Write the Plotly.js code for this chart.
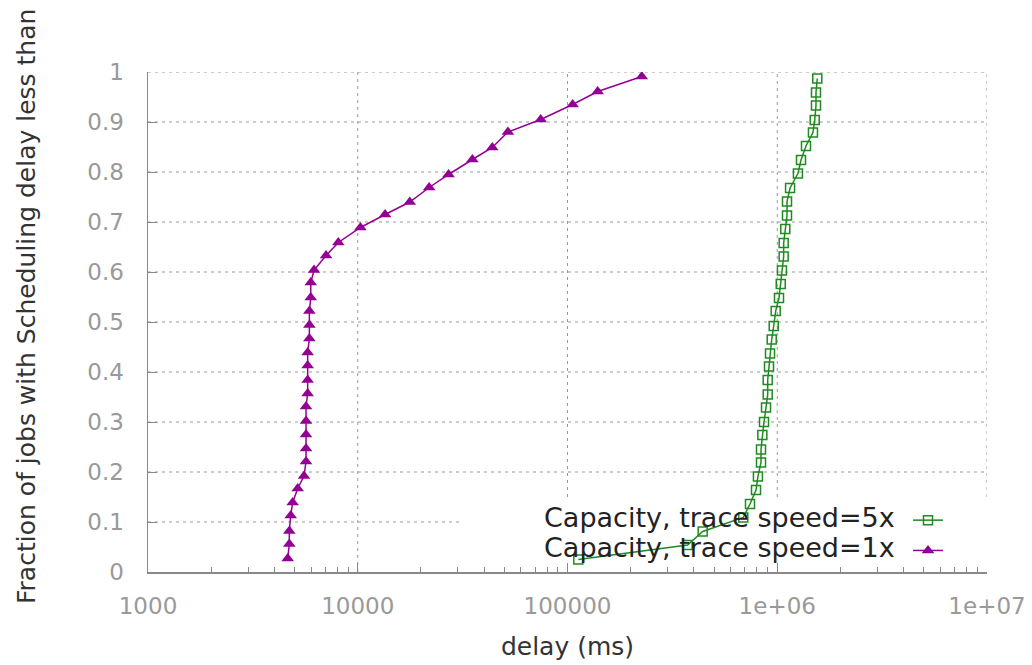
<!DOCTYPE html>
<html>
<head>
<meta charset="utf-8">
<script src="https://cdn.plot.ly/plotly-3.0.1.min.js"></script>
<style>html,body{margin:0;padding:0;background:#fff;}#chart{width:1032px;height:665px;}</style>
</head>
<body>
<div id="chart"></div>
<script>
// Series: Capacity, trace speed=1x (purple triangles)
const speed1xDelay = [4634, 4718, 4718, 4790, 4895, 5172, 5543, 5667, 5667, 5667, 5667, 5667, 5770, 5770, 5770, 5770, 5880, 5880, 5880, 5970, 5970, 6190, 7060, 8080, 10300, 13500, 17700, 21900, 27100, 35200, 43800, 52000, 74500, 105800, 139300, 226000];
const speed1xFrac  = [0.027, 0.056, 0.082, 0.113, 0.139, 0.167, 0.192, 0.221, 0.247, 0.275, 0.302, 0.331, 0.357, 0.384, 0.413, 0.439, 0.467, 0.494, 0.522, 0.549, 0.579, 0.604, 0.633, 0.659, 0.689, 0.715, 0.740, 0.769, 0.795, 0.825, 0.849, 0.880, 0.905, 0.935, 0.961, 0.991];

// Series: Capacity, trace speed=5x (green open squares)
const speed5xDelay = [112600, 374000, 441100, 688700, 741400, 792000, 809000, 836700, 836700, 849000, 864700, 884000, 900500, 900500, 913500, 923700, 941000, 962000, 983000, 1019500, 1039000, 1053000, 1073000, 1073000, 1092000, 1113000, 1113000, 1151000, 1255000, 1298000, 1371000, 1480000, 1509000, 1530000, 1530000, 1552000];
const speed5xFrac  = [0.025, 0.054, 0.081, 0.109, 0.136, 0.164, 0.191, 0.219, 0.245, 0.274, 0.300, 0.329, 0.355, 0.384, 0.411, 0.437, 0.465, 0.492, 0.522, 0.548, 0.576, 0.603, 0.631, 0.658, 0.686, 0.713, 0.741, 0.768, 0.797, 0.824, 0.852, 0.879, 0.904, 0.933, 0.959, 0.987];

const seriesNames = ["Capacity, trace speed=5x", "Capacity, trace speed=1x"];
const xTickVals = [1000, 10000, 100000, 1000000, 10000000];
const xTickText = ["1000", "10000", "100000", "1e+06", "1e+07"];
const yTickVals = [0, 0.1, 0.2, 0.3, 0.4, 0.5, 0.6, 0.7, 0.8, 0.9, 1];
const yTickText = ["0", "0.1", "0.2", "0.3", "0.4", "0.5", "0.6", "0.7", "0.8", "0.9", "1"];
const xRange = [1000, 10000000];
const yRange = [0, 1];
// area kept free of grid behind the key (data units)
const keyBox = {x0: 30730, y1: 0.15};

const GREEN = "#1f8a1f";
const PURPLE = "#940094";
const FONT = "DejaVu Sans";
const GRID = {color: "#999", width: 1, dash: "3px,4px"};

const traces = [
  {
    x: speed5xDelay, y: speed5xFrac, type: "scatter", mode: "lines+markers",
    name: " ", line: {color: GREEN, width: 1.5},
    marker: {symbol: "square-open", size: 9, color: GREEN, line: {color: GREEN, width: 1.5}}
  },
  {
    x: speed1xDelay, y: speed1xFrac, type: "scatter", mode: "lines+markers",
    name: " ", line: {color: PURPLE, width: 1.5},
    marker: {symbol: "triangle-up", size: 11, color: PURPLE}
  }
];

// dotted grid, leaving the key area clear
const gridShapes = [];
yTickVals.filter(v => v > 0).forEach(v => {
  gridShapes.push({type: "line", xref: "x", yref: "y", layer: "below",
    x0: xRange[0], x1: v < keyBox.y1 ? keyBox.x0 : xRange[1], y0: v, y1: v, line: GRID});
});
xTickVals.filter(v => v > xRange[0]).forEach(v => {
  gridShapes.push({type: "line", xref: "x", yref: "y", layer: "below",
    x0: v, x1: v, y0: v > keyBox.x0 ? keyBox.y1 : yRange[0], y1: yRange[1], line: GRID});
});

const W = 1032, H = 665, L = 148, R = 45, T = 72, B = 93;
const pw = W - L - R, ph = H - T - B;
const px = v => (v - L) / pw;
const py = v => (H - B - v) / ph;

const layout = {
  width: W, height: H,
  margin: {l: L, r: R, t: T, b: B, pad: 0},
  paper_bgcolor: "#fff", plot_bgcolor: "#fff",
  font: {family: FONT, size: 24, color: "#333"},
  showlegend: true,
  legend: {
    x: px(908), y: py(500), xanchor: "left", yanchor: "top",
    bgcolor: "rgba(0,0,0,0)", borderwidth: 0,
    font: {family: FONT, size: 21, color: "#222"},
    tracegroupgap: 0, itemwidth: 30
  },
  xaxis: {
    type: "log", range: [3, 7],
    tickvals: xTickVals, ticktext: xTickText,
    ticks: "inside", ticklen: 9, tickcolor: "#888", tickwidth: 1,
    showline: true, linecolor: "#888", linewidth: 1.5, mirror: false,
    showgrid: false, zeroline: false,
    tickfont: {family: FONT, size: 23, color: "#999"},
    ticklabelstandoff: 13,
    minor: {ticks: "inside", ticklen: 5, tickcolor: "#888", showgrid: false, dtick: "D1"},
    title: {text: "delay (ms)", font: {family: FONT, size: 25, color: "#333"}, standoff: 19}
  },
  yaxis: {
    range: [0, 1],
    tickvals: yTickVals, ticktext: yTickText,
    ticks: "inside", ticklen: 9, tickcolor: "#888", tickwidth: 1,
    showline: true, linecolor: "#888", linewidth: 1.5, mirror: false,
    showgrid: false, zeroline: false,
    tickfont: {family: FONT, size: 23, color: "#999"},
    ticklabelstandoff: 18
  },
  shapes: gridShapes,
  annotations: [
    {xref: "paper", yref: "paper", x: px(26), y: py(307), xanchor: "center", yanchor: "middle",
     textangle: -90, text: "Fraction of jobs with Scheduling delay less than", showarrow: false,
     font: {family: FONT, size: 25, color: "#333"}},
    {xref: "paper", yref: "paper", x: px(897), y: py(517), xanchor: "right", yanchor: "middle",
     text: seriesNames[0], showarrow: false, font: {family: FONT, size: 27, color: "#222"}},
    {xref: "paper", yref: "paper", x: px(897), y: py(547), xanchor: "right", yanchor: "middle",
     text: seriesNames[1], showarrow: false, font: {family: FONT, size: 27, color: "#222"}}
  ]
};

Plotly.newPlot("chart", traces, layout, {displayModeBar: false, staticPlot: true});
</script>
</body>
</html>
